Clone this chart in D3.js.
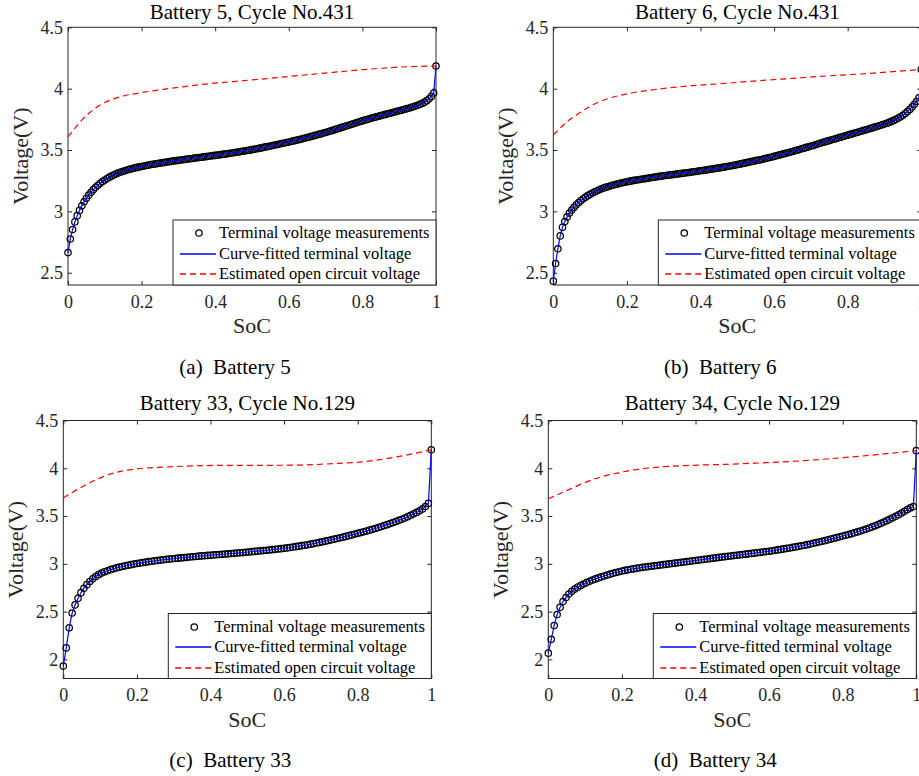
<!DOCTYPE html>
<html>
<head>
<meta charset="utf-8">
<title>Terminal and open circuit voltage vs SoC</title>
<script src="https://d3js.org/d3.v7.min.js"></script>
<style>
  body { margin: 0; background: #fff; }
  svg { display: block; font-family: "Liberation Serif", "Times New Roman", serif; }
  .box { fill: none; stroke: #262626; stroke-width: 1; }
  .axis path.domain { display: none; }
  .axis line { stroke: #262626; }
  .axis text { font-family: "Liberation Serif", "Times New Roman", serif; font-size: 18px; fill: #262626; }
  .title { font-size: 21px; fill: #000; text-anchor: middle; }
  .label { font-size: 22px; fill: #262626; text-anchor: middle; }
  .caption { font-size: 21px; fill: #000; text-anchor: middle; }
  .legend rect { fill: #fff; stroke: #262626; stroke-width: 1; }
  .legend text { font-size: 16.5px; fill: #000; }
</style>
</head>
<body>
<svg width="919" height="776"></svg>
<script>
var titles = ["Battery 5, Cycle No.431", "Battery 6, Cycle No.431", "Battery 33, Cycle No.129", "Battery 34, Cycle No.129"];
var captions = ["(a)\u00a0\u00a0Battery 5", "(b)\u00a0\u00a0Battery 6", "(c)\u00a0\u00a0Battery 33", "(d)\u00a0\u00a0Battery 34"];
var legendLabels = ["Terminal voltage measurements", "Curve-fitted terminal voltage", "Estimated open circuit voltage"];
var xTicks = [0, 0.2, 0.4, 0.6, 0.8, 1];
var yTicksTop = [2.5, 3, 3.5, 4, 4.5];
var yTicksBottom = [2, 2.5, 3, 3.5, 4, 4.5];
var yDomainTop = [2.4, 4.5];
var yDomainBottom = [1.8, 4.5];

// terminal voltage samples (V), equally spaced in SoC from 0 to 1
var vTerm5 = [
  2.664,2.775,2.852,2.914,2.965,3.008,3.045,3.078,3.107,3.132,
  3.156,3.177,3.196,3.213,3.229,3.243,3.256,3.268,3.279,3.289,
  3.298,3.306,3.314,3.321,3.327,3.333,3.339,3.344,3.349,3.354,
  3.358,3.362,3.366,3.370,3.374,3.377,3.381,3.384,3.387,3.390,
  3.393,3.396,3.399,3.402,3.405,3.408,3.411,3.413,3.416,3.419,
  3.421,3.424,3.426,3.429,3.431,3.434,3.436,3.439,3.441,3.444,
  3.446,3.449,3.451,3.454,3.456,3.459,3.461,3.464,3.466,3.469,
  3.472,3.475,3.478,3.481,3.484,3.487,3.490,3.493,3.496,3.499,
  3.503,3.506,3.510,3.513,3.517,3.521,3.525,3.529,3.533,3.537,
  3.541,3.545,3.549,3.553,3.557,3.561,3.565,3.569,3.574,3.578,
  3.583,3.587,3.592,3.597,3.602,3.607,3.612,3.617,3.622,3.627,
  3.632,3.638,3.643,3.649,3.654,3.660,3.666,3.672,3.678,3.684,
  3.690,3.696,3.702,3.708,3.714,3.720,3.726,3.732,3.737,3.743,
  3.749,3.754,3.760,3.765,3.770,3.775,3.780,3.785,3.790,3.795,
  3.800,3.805,3.810,3.815,3.820,3.825,3.830,3.835,3.840,3.846,
  3.852,3.858,3.865,3.872,3.880,3.890,3.902,3.917,3.937,3.965,
  4.185
];
var vTerm6 = [
  2.431,2.575,2.695,2.800,2.870,2.917,2.955,2.986,3.011,3.033,
  3.053,3.072,3.088,3.103,3.116,3.128,3.139,3.150,3.159,3.168,
  3.176,3.184,3.191,3.197,3.203,3.209,3.214,3.219,3.224,3.229,
  3.233,3.237,3.241,3.245,3.248,3.252,3.255,3.258,3.261,3.264,
  3.267,3.270,3.273,3.276,3.279,3.282,3.285,3.287,3.290,3.292,
  3.295,3.297,3.300,3.302,3.305,3.307,3.310,3.312,3.315,3.317,
  3.320,3.323,3.325,3.328,3.331,3.333,3.336,3.339,3.342,3.345,
  3.348,3.351,3.354,3.357,3.360,3.363,3.367,3.370,3.374,3.377,
  3.381,3.385,3.389,3.393,3.397,3.401,3.405,3.409,3.413,3.417,
  3.421,3.425,3.430,3.434,3.439,3.443,3.448,3.453,3.458,3.463,
  3.468,3.473,3.478,3.483,3.488,3.493,3.499,3.504,3.510,3.515,
  3.521,3.526,3.532,3.537,3.543,3.549,3.555,3.561,3.566,3.572,
  3.577,3.583,3.588,3.594,3.599,3.605,3.610,3.616,3.621,3.627,
  3.632,3.638,3.643,3.649,3.654,3.660,3.665,3.671,3.676,3.682,
  3.688,3.694,3.700,3.706,3.712,3.718,3.725,3.733,3.741,3.750,
  3.760,3.771,3.783,3.797,3.813,3.831,3.851,3.873,3.897,3.925,
  4.157
];
var vTerm33 = [
  1.930,2.120,2.330,2.485,2.570,2.640,2.698,2.745,2.782,2.815,
  2.843,2.867,2.887,2.903,2.916,2.928,2.939,2.948,2.957,2.965,
  2.972,2.979,2.985,2.991,2.997,3.003,3.008,3.013,3.018,3.023,
  3.027,3.031,3.035,3.039,3.043,3.047,3.050,3.053,3.056,3.059,
  3.062,3.065,3.068,3.071,3.074,3.077,3.080,3.083,3.085,3.088,
  3.090,3.093,3.095,3.098,3.100,3.103,3.105,3.108,3.110,3.113,
  3.116,3.118,3.121,3.124,3.127,3.130,3.133,3.136,3.139,3.142,
  3.145,3.148,3.152,3.155,3.159,3.163,3.167,3.171,3.176,3.180,
  3.185,3.190,3.195,3.200,3.206,3.212,3.218,3.224,3.230,3.237,
  3.244,3.251,3.258,3.265,3.272,3.279,3.287,3.295,3.303,3.311,
  3.319,3.327,3.335,3.343,3.352,3.361,3.370,3.380,3.390,3.400,
  3.410,3.421,3.432,3.443,3.455,3.467,3.480,3.494,3.508,3.523,
  3.538,3.555,3.575,3.600,3.632,4.194
];
var vTerm34 = [
  2.065,2.210,2.355,2.470,2.545,2.605,2.648,2.684,2.712,2.736,
  2.756,2.773,2.789,2.804,2.818,2.831,2.842,2.853,2.863,2.873,
  2.883,2.892,2.901,2.909,2.917,2.925,2.931,2.937,2.943,2.948,
  2.953,2.958,2.963,2.967,2.971,2.975,2.979,2.983,2.987,2.991,
  2.995,2.999,3.003,3.007,3.011,3.015,3.019,3.023,3.027,3.031,
  3.035,3.039,3.043,3.047,3.051,3.055,3.059,3.063,3.067,3.071,
  3.075,3.079,3.082,3.086,3.090,3.094,3.097,3.101,3.105,3.109,
  3.112,3.116,3.120,3.124,3.128,3.132,3.136,3.141,3.146,3.151,
  3.156,3.161,3.166,3.172,3.177,3.183,3.189,3.195,3.201,3.208,
  3.215,3.222,3.229,3.236,3.243,3.251,3.259,3.267,3.275,3.283,
  3.291,3.299,3.307,3.316,3.325,3.334,3.344,3.354,3.364,3.375,
  3.386,3.398,3.411,3.424,3.438,3.452,3.467,3.482,3.498,3.514,
  3.532,3.550,3.568,3.585,3.600,4.184
];

// estimated open circuit voltage: SoC knots and voltage (V)
var ocvSoc5 = [0, 0.02, 0.04, 0.06, 0.087, 0.114, 0.15, 0.2, 0.268, 0.359, 0.449, 0.54, 0.63, 0.72, 0.81, 0.902, 1];
var ocv5    = [3.607, 3.683, 3.752, 3.808, 3.866, 3.906, 3.940, 3.968, 3.998, 4.033, 4.058, 4.082, 4.108, 4.133, 4.157, 4.176, 4.185];
var ocvSoc6 = [0, 0.043, 0.07, 0.106, 0.151, 0.197, 0.287, 0.378, 0.468, 0.559, 0.65, 0.74, 0.831, 0.921, 1];
var ocv6    = [3.622, 3.744, 3.80, 3.866, 3.921, 3.956, 3.997, 4.024, 4.043, 4.065, 4.084, 4.103, 4.119, 4.138, 4.157];
var ocvSoc33 = [0, 0.054, 0.1, 0.145, 0.199, 0.28, 0.371, 0.462, 0.552, 0.643, 0.733, 0.824, 0.914, 1];
var ocv33    = [3.69, 3.812, 3.899, 3.958, 3.993, 4.013, 4.027, 4.031, 4.031, 4.034, 4.048, 4.072, 4.125, 4.194];
var ocvSoc34 = [0, 0.056, 0.12, 0.21, 0.301, 0.391, 0.482, 0.572, 0.663, 0.754, 0.844, 0.935, 1];
var ocv34    = [3.68, 3.777, 3.881, 3.968, 4.013, 4.031, 4.041, 4.055, 4.072, 4.097, 4.125, 4.159, 4.184];

var svg = d3.select("svg");
var plotW = 368;
var tickFmt = function(d) { return String(d); };

var panels = [
  {left: 68,    top: 27.3,  bottom: 285,   v: vTerm5,  os: ocvSoc5,  ov: ocv5,  yd: yDomainTop,    yt: yTicksTop},
  {left: 553.3, top: 27.3,  bottom: 285,   v: vTerm6,  os: ocvSoc6,  ov: ocv6,  yd: yDomainTop,    yt: yTicksTop},
  {left: 63.3,  top: 420.5, bottom: 678.5, v: vTerm33, os: ocvSoc33, ov: ocv33, yd: yDomainBottom, yt: yTicksBottom},
  {left: 548.3, top: 420.5, bottom: 678.5, v: vTerm34, os: ocvSoc34, ov: ocv34, yd: yDomainBottom, yt: yTicksBottom}
];

panels.forEach(function(p, k) {
  var x = d3.scaleLinear().domain([0, 1]).range([p.left, p.left + plotW]);
  var y = d3.scaleLinear().domain(p.yd).range([p.bottom, p.top]);
  var soc = d3.scaleLinear().domain([0, p.v.length - 1]).range([0, 1]);
  var h = p.bottom - p.top;
  var g = svg.append("g");

  // axes with inward ticks on all four sides
  g.append("g").attr("class", "axis")
      .attr("transform", "translate(0," + p.bottom + ")")
      .call(d3.axisBottom(x).tickValues(xTicks).tickFormat(tickFmt).tickSizeInner(-4).tickSizeOuter(0).tickPadding(10));
  g.append("g").attr("class", "axis")
      .attr("transform", "translate(0," + p.top + ")")
      .call(d3.axisTop(x).tickValues(xTicks).tickSizeInner(-4).tickSizeOuter(0).tickFormat(""));
  g.append("g").attr("class", "axis")
      .attr("transform", "translate(" + p.left + ",0)")
      .call(d3.axisLeft(y).tickValues(p.yt).tickFormat(tickFmt).tickSizeInner(-4).tickSizeOuter(0).tickPadding(5));
  g.append("g").attr("class", "axis")
      .attr("transform", "translate(" + (p.left + plotW) + ",0)")
      .call(d3.axisRight(y).tickValues(p.yt).tickSizeInner(-4).tickSizeOuter(0).tickFormat(""));
  g.append("rect").attr("class", "box")
      .attr("x", p.left).attr("y", p.top).attr("width", plotW).attr("height", h);

  // measurements
  g.append("g").selectAll("circle")
    .data(p.v)
    .enter().append("circle")
      .attr("cx", function(d, i) { return x(soc(i)); })
      .attr("cy", function(d) { return y(d); })
      .attr("r", 3.2)
      .attr("fill", "none")
      .attr("stroke", "#000")
      .attr("stroke-width", 1.25);

  // curve fitted terminal voltage
  var line = d3.line()
      .x(function(d, i) { return x(soc(i)); })
      .y(function(d) { return y(d); });
  g.append("path")
      .attr("d", line(p.v))
      .attr("fill", "none")
      .attr("stroke", "#0000ff")
      .attr("stroke-width", 1.2);

  // open circuit voltage
  var ocvLine = d3.line()
      .x(function(d) { return x(p.os[d]); })
      .y(function(d) { return y(p.ov[d]); })
      .curve(d3.curveMonotoneX);
  g.append("path")
      .attr("d", ocvLine(d3.range(p.os.length)))
      .attr("fill", "none")
      .attr("stroke", "#ff0000")
      .attr("stroke-width", 1.2)
      .attr("stroke-dasharray", "6,4");

  // texts
  g.append("text").attr("class", "title")
      .attr("x", p.left + plotW / 2).attr("y", Math.max(p.top - 11, 18.8))
      .text(titles[k]);
  g.append("text").attr("class", "label")
      .attr("x", p.left + plotW / 2).attr("y", p.bottom + 48)
      .text("SoC");
  g.append("text").attr("class", "label")
      .attr("transform", "translate(" + (p.left - 40) + "," + (p.top + h / 2) + ") rotate(-90)")
      .text("Voltage(V)");
  g.append("text").attr("class", "caption")
      .attr("x", p.left + plotW / 2 - 17).attr("y", p.bottom + 88.5)
      .text(captions[k]);

  // legend
  var lw = 263, lh = 65;
  var lx = p.left + plotW - lw, ly = p.bottom - lh;
  var lg = g.append("g").attr("class", "legend");
  lg.append("rect").attr("x", lx).attr("y", ly).attr("width", lw).attr("height", lh);
  var rowY = [13, 33.5, 54].map(function(o) { return Math.round(ly + o); });
  legendLabels.forEach(function(label, i) {
    lg.append("text")
        .attr("x", lx + 46).attr("y", rowY[i]).attr("dy", "0.33em")
        .text(label);
  });
  lg.append("circle")
      .attr("cx", lx + 26).attr("cy", rowY[0]).attr("r", 3.2)
      .attr("fill", "none").attr("stroke", "#000").attr("stroke-width", 1.25);
  lg.append("line")
      .attr("x1", lx + 7).attr("x2", lx + 43).attr("y1", rowY[1]).attr("y2", rowY[1])
      .attr("stroke", "#0000ff").attr("stroke-width", 1.4);
  lg.append("line")
      .attr("x1", lx + 7).attr("x2", lx + 43).attr("y1", rowY[2]).attr("y2", rowY[2])
      .attr("stroke", "#ff0000").attr("stroke-width", 1.4)
      .attr("stroke-dasharray", "6,4");
});
</script>
</body>
</html>
